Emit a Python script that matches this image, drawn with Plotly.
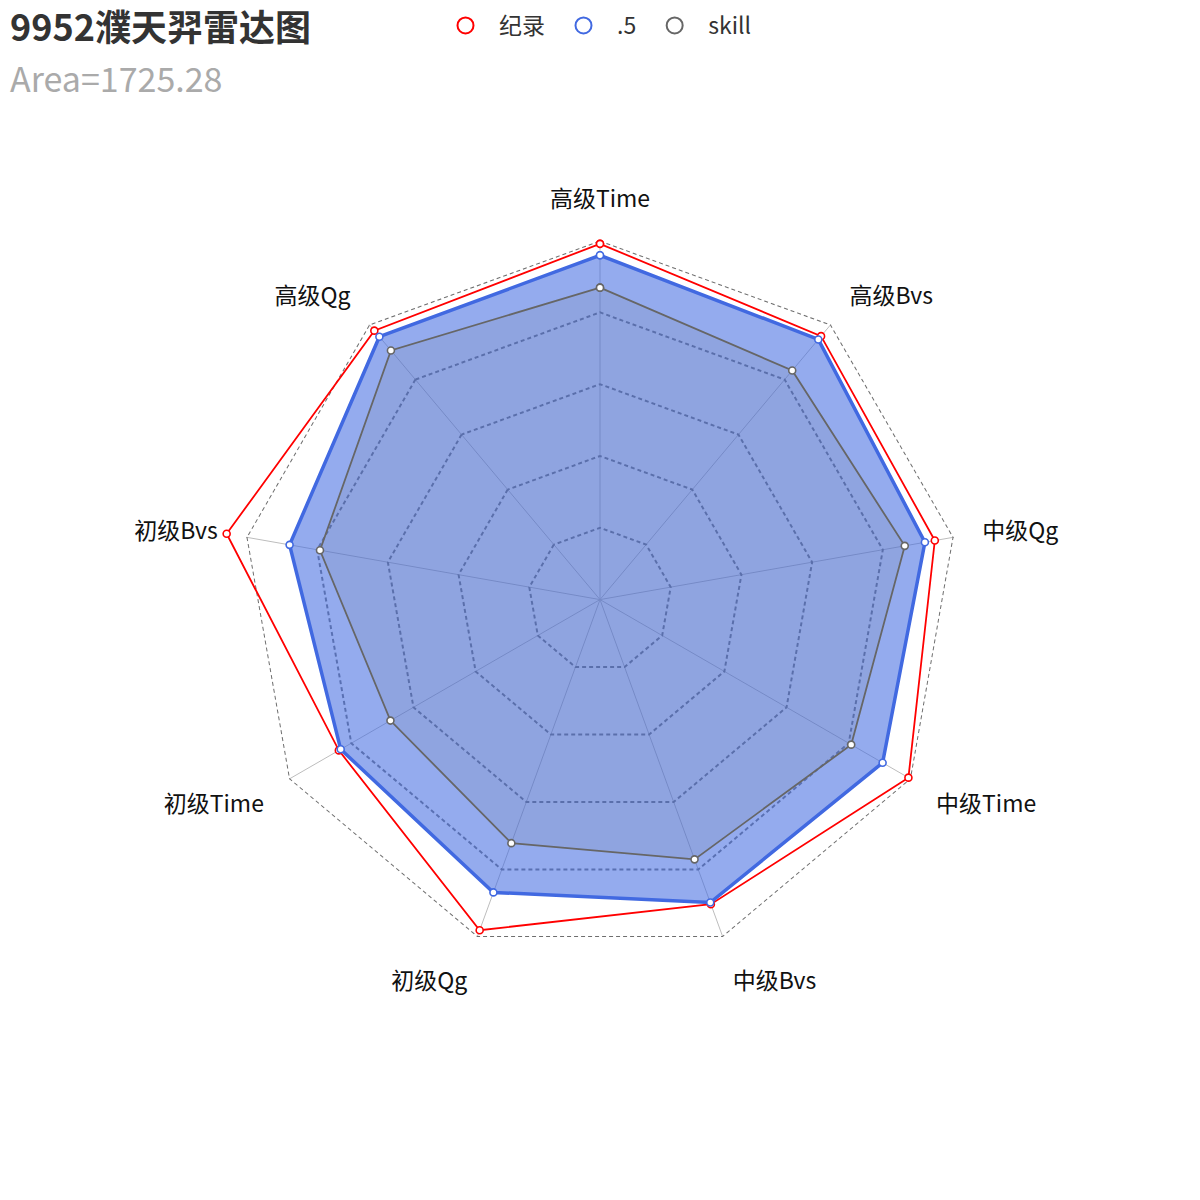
import plotly.graph_objects as go

categories = ['高级Time', '高级Bvs', '中级Qg', '中级Time', '中级Bvs', '初级Qg', '初级Time', '初级Bvs', '高级Qg']
record = [0.991, 0.958, 0.947, 0.992, 0.903, 0.980, 0.840, 1.056, 0.978]
half = [0.959, 0.946, 0.919, 0.909, 0.898, 0.868, 0.834, 0.878, 0.956]
skill = [0.869, 0.833, 0.862, 0.808, 0.770, 0.722, 0.674, 0.792, 0.906]
series_names = ['纪录', '.5', 'skill']
grid_ticks = [0.2, 0.4, 0.6, 0.8, 1.0]
title_text = '9952濮天羿雷达图'
subtitle_text = 'Area=1725.28'

FONT = 'Noto Sans CJK SC, Microsoft YaHei, sans-serif'
W = H = 1200
CX, CY = 600, 599.6
R1 = 359.0          # px radius for value 1.0
RMAX = 1.1          # data subplot range
GRID_COLOR = '#7a7a7a'
GRID_DASH = '4px,3px'

def dom(radius_px):
    hx = radius_px / W
    hy = radius_px / H
    cy = (H - CY) / H
    return dict(x=[CX / W - hx, CX / W + hx], y=[cy - hy, cy + hy])

def closed(v):
    return list(v) + [v[0]]

theta = closed(categories)

fig = go.Figure()

# outer ring of the grid (value 1.0) in the grid subplot
fig.add_trace(go.Scatterpolar(r=closed([grid_ticks[-1]] * len(categories)), theta=theta, mode='lines',
                              line=dict(color='#6e6e6e', width=2, dash=GRID_DASH),
                              showlegend=False, hoverinfo='skip', subplot='polar'))

colors = ['#ff0000', '#4169e1', '#666666']
widths = [1.8, 3.5, 1.8]
fillcolors = [None, 'rgba(65,105,225,0.56)', 'rgba(110,110,110,0.10)']
datas = [record, half, skill]

for name, vals, c, w, fc in zip(series_names, datas, colors, widths, fillcolors):
    kw = dict(r=closed(vals), theta=theta, mode='lines+markers', name=name,
              line=dict(color=c, width=w),
              marker=dict(size=7, color='white', line=dict(color=c, width=1.6)),
              showlegend=False, subplot='polar2')
    if fc is not None:
        kw['fill'] = 'toself'
        kw['fillcolor'] = fc
    fig.add_trace(go.Scatterpolar(**kw))

# legend-only entries
for name, c in zip(series_names, colors):
    fig.add_trace(go.Scatterpolar(r=[None], theta=[categories[0]], mode='markers', name=name,
                                  marker=dict(symbol='circle-open', size=22, color=c,
                                              line=dict(color=c, width=2)),
                                  subplot='polar2', showlegend=True))

fig.update_layout(
    width=W, height=H,
    margin=dict(l=0, r=0, t=0, b=0),
    paper_bgcolor='white',
    font=dict(family=FONT, color='#333333'),
    showlegend=True,
    legend=dict(orientation='h', x=432 / W, xanchor='left', y=1 - 4 / H, yanchor='top',
                font=dict(size=23, color='#333333', family=FONT),
                itemsizing='trace', itemwidth=57, bgcolor='rgba(0,0,0,0)'),
    annotations=[
        dict(text='<b>%s</b>' % title_text, xref='paper', yref='paper', x=8 / W, y=1 - 25 / H,
             xanchor='left', yanchor='middle', showarrow=False,
             font=dict(size=36, color='#333333', family=FONT)),
        dict(text=subtitle_text, xref='paper', yref='paper', x=8 / W, y=1 - 77 / H,
             xanchor='left', yanchor='middle', showarrow=False,
             font=dict(size=34, color='#aaaaaa', family=FONT)),
    ],
    polar=dict(
        domain=dom(R1),
        bgcolor='rgba(0,0,0,0)',
        gridshape='linear',
        radialaxis=dict(range=[0, 1.0], tickvals=grid_ticks, showticklabels=False, ticks='',
                        showline=False, gridcolor=GRID_COLOR, gridwidth=1.5, griddash=GRID_DASH),
        angularaxis=dict(type='category', categoryarray=categories, rotation=90,
                         direction='clockwise', showline=False, gridcolor='#bdbdbd', gridwidth=1.2,
                         ticks='outside', ticklen=24, tickcolor='rgba(0,0,0,0)',
                         tickfont=dict(size=23, color='#111111', family=FONT)),
    ),
    polar2=dict(
        domain=dom(R1 * RMAX),
        bgcolor='rgba(0,0,0,0)',
        gridshape='linear',
        radialaxis=dict(range=[0, RMAX], visible=False, showgrid=False),
        angularaxis=dict(type='category', categoryarray=categories, rotation=90,
                         direction='clockwise', showline=False, showgrid=False,
                         showticklabels=False, ticks=''),
    ),
)

fig.write_html('out.html')
